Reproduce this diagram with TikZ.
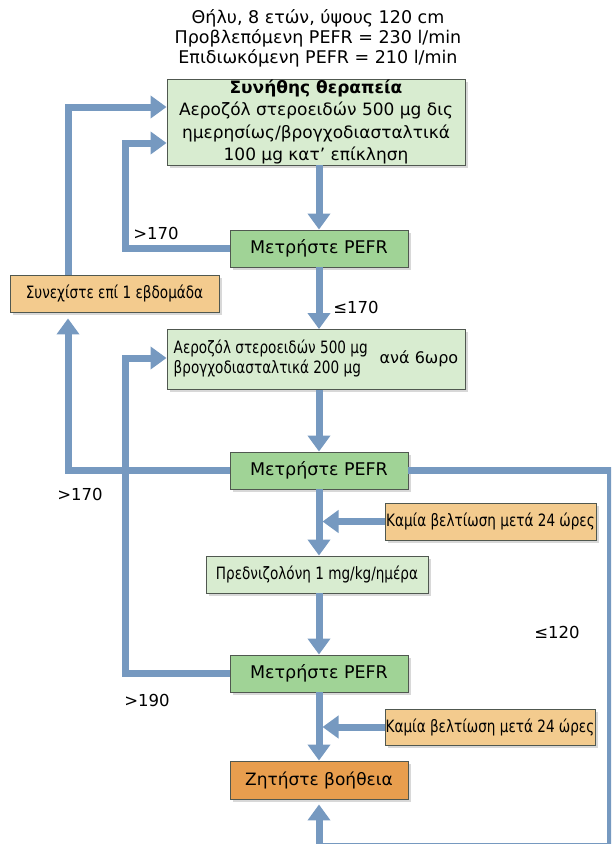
\documentclass[tikz,border=0pt]{standalone}
\usepackage{fontspec}
\setmainfont{DejaVu Sans}
\newfontfamily\narrowfont{DejaVu Sans}[FakeStretch=0.8]
\usetikzlibrary{arrows.meta, positioning, shadows}

\definecolor{flowblue}{RGB}{118,153,192}
\definecolor{palegreen}{RGB}{216,236,208}
\definecolor{midgreen}{RGB}{160,211,150}
\definecolor{paleorange}{RGB}{243,203,142}
\definecolor{deeporange}{RGB}{232,158,78}
\definecolor{boxline}{RGB}{80,88,80}

\begin{document}
\begin{tikzpicture}[x=1pt, y=-1pt,
    box/.style={draw=boxline, line width=0.9pt, inner sep=0pt, align=center,
        font=\fontsize{17.5}{20}\selectfont,
        drop shadow={shadow xshift=2.5pt, shadow yshift=-2.5pt, fill=black!30}},
    therapy/.style={box, fill=palegreen},
    measure/.style={box, fill=midgreen, minimum width=178, minimum height=37},
    remark/.style={box, fill=paleorange, font=\narrowfont\fontsize{17}{20}\selectfont},
    urgent/.style={box, fill=deeporange, minimum width=178, minimum height=38, font=\fontsize{17}{20}\selectfont},
    flow/.style={draw=flowblue, line width=7pt, -{Triangle[width=22pt, length=16pt]}},
    lbl/.style={font=\fontsize{16.5}{20}\selectfont}]
    \useasboundingbox (0,0) rectangle (611,844);
    \clip (0,0) rectangle (611,844);
    % ασθενής
    \node[align=center, font=\fontsize{17.5}{20}\selectfont] (patient) at (318,38)
        {Θήλυ, 8 ετών, ύψους 120 cm\\Προβλεπόμενη PEFR = 230 l/min\\Επιδιωκόμενη PEFR = 210 l/min};
    % κουτιά θεραπείας
    \node[therapy, minimum width=298, minimum height=86, font=\fontsize{17}{22.5}\selectfont] (usual) at (316,122)
        {\textbf{Συνήθης θεραπεία}\\Αεροζόλ στεροειδών 500 μg δις\\ημερησίως/βρογχοδιασταλτικά\\100 μg κατ’ επίκληση};
    \node[therapy, minimum width=298, minimum height=60, font=\fontsize{16}{20}\selectfont] (sixhourly) at (316,359.5)
        {{\narrowfont\fontsize{17}{20}\selectfont\begin{tabular}{@{}l@{}}Αεροζόλ στεροειδών 500 μg\\βρογχοδιασταλτικά 200 μg\end{tabular}}\hspace{12pt}ανά 6ωρο};
    \node[therapy, minimum width=222, minimum height=37, font=\narrowfont\fontsize{17}{20}\selectfont] (pred) at (317,574.5)
        {Πρεδνιζολόνη 1 mg/kg/ημέρα};
    % μετρήσεις
    \node[measure] (m1) at (319,248.5) {Μετρήστε PEFR};
    \node[measure] (m2) at (319,470.5) {Μετρήστε PEFR};
    \node[measure] (m3) at (319,673.5) {Μετρήστε PEFR};
    % σημειώσεις
    \node[remark, minimum width=209, minimum height=37] (cont) at (114.5,293.5) {Συνεχίστε επί 1 εβδομάδα};
    \node[remark, minimum width=211, minimum height=37] (k1) at (490.5,521.5) {Καμία βελτίωση μετά 24 ώρες};
    \node[remark, minimum width=210, minimum height=36] (k2) at (490,727) {Καμία βελτίωση μετά 24 ώρες};
    \node[urgent] (help) at (319,780) {Ζητήστε βοήθεια};
    % κεντρική ροή
    \draw[flow] (usual.south -| m1.north) -- (m1.north);
    \draw[flow] (m1.south) -- (sixhourly.north -| m1.south);
    \draw[flow] (sixhourly.south -| m2.north) -- (m2.north);
    \draw[flow] (m2.south) -- (pred.north -| m2.south);
    \draw[flow] (pred.south -| m3.north) -- (m3.north);
    \draw[flow] (m3.south) -- (help.north);
    % πλευρικά βέλη
    \draw[flow, shorten >=3.5pt] (k1.west) -- (k1.west -| m2.south);
    \draw[flow, shorten >=3.5pt] (k2.west) -- (k2.west -| m3.south);
    % βρόχοι αριστερά
    \draw[flow] (m1.west) -| (125,143) -- (usual.west |- 0,143);
    \draw[flow] (cont.north -| 68,0) |- (usual.west |- 0,107);
    \draw[flow, shorten >=6pt] (m2.west) -| (cont.south -| 68,0);
    \draw[flow] (m3.west) -| (125,358) -- (sixhourly.west |- 0,358);
    % βρόχος δεξιά
    \draw[flow, shorten >=5pt] (m2.east) -- (610.5,470.5) -- (610.5,846) -| (help.south);
    % ετικέτες
    \node[lbl] (gt1) at (156,233) {>170};
    \node[lbl] (le1) at (356,307) {≤170};
    \node[lbl] (gt2) at (80,494) {>170};
    \node[lbl] (le2) at (557,632) {≤120};
    \node[lbl] (gt3) at (147,700) {>190};
\end{tikzpicture}
\end{document}
